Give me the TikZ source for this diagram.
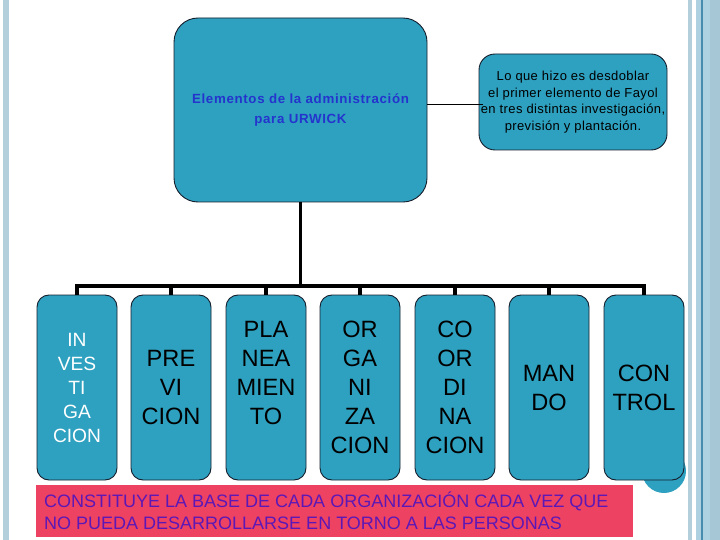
\documentclass[tikz,border=0pt]{standalone}
\usepackage{fontspec}
\setmainfont{Liberation Sans}
\definecolor{boxfill}{RGB}{46,161,192}
\definecolor{boxline}{RGB}{20,30,45}
\definecolor{titleblue}{RGB}{36,52,205}
\definecolor{notered}{RGB}{238,66,98}
\definecolor{notepurple}{RGB}{92,24,182}
\definecolor{stripA}{RGB}{180,207,220}
\definecolor{stripB}{RGB}{174,209,226}
\definecolor{stripC}{RGB}{166,200,214}
\definecolor{stripLine}{RGB}{70,140,175}
\tikzset{
  tealbox/.style={draw=boxline, line width=0.9pt, fill=boxfill, rounded corners=#1, inner sep=0pt, align=center},
  tealbox/.default=12pt,
  elembox/.style={tealbox=12pt, minimum width=80pt, minimum height=185pt,
     font=\fontsize{23.6}{29}\selectfont},
  conn/.style={draw=black, line width=3.2pt},
  thinconn/.style={draw=black, line width=1pt},
}
\begin{document}
\begin{tikzpicture}[x=1pt,y=-1pt]
\useasboundingbox (0,0) rectangle (720,540);
\fill[white] (0,0) rectangle (720,540);
% side decorations
\fill[stripA] (3,0) rectangle (9,540);
\fill[stripA] (688,0) rectangle (692,540);
\fill[stripB] (696,0) rectangle (720,540);
\fill[stripC] (710,0) rectangle (720,540);
\draw[stripLine, line width=1.2pt] (702,0) -- (702,540);

% main box
\node[tealbox=24pt, minimum width=253pt, minimum height=184pt,
      font=\fontsize{13.3}{20.7}\selectfont\bfseries\addfontfeature{LetterSpace=5},
      text=titleblue] (main) at (300.5,110)
  {Elementos de la administración\\para URWICK};

% side note box
\node[tealbox=16pt, minimum width=188pt, minimum height=96pt,
      font=\fontsize{13}{16.7}\selectfont\addfontfeature{LetterSpace=3}] (side) at (573,102)
  {Lo que hizo es desdoblar\\el primer elemento de Fayol\\en tres distintas investigación,\\previsión y plantación.};
\draw[thinconn] ([yshift=5pt]main.east) -- ([yshift=-3pt,xshift=4pt]side.west);

% shadow blob behind last box
\fill[boxfill] (664,471) circle (22);

% element boxes
\node[elembox, font=\fontsize{19.2}{24}\selectfont, text=white] (b1) at (77,387.5) {IN\\VES\\TI\\GA\\CION};
\node[elembox] (b2) at (171,387.5) {PRE\\VI\\CION};
\node[elembox] (b3) at (266,387.5) {PLA\\NEA\\MIEN\\TO\\\mbox{}};
\node[elembox] (b4) at (360,387.5) {OR\\GA\\NI\\ZA\\CION};
\node[elembox] (b5) at (455,387.5) {CO\\OR\\DI\\NA\\CION};
\node[elembox] (b6) at (549,387.5) {MAN\\DO};
\node[elembox] (b7) at (644,387.5) {CON\\TROL};

% tree connectors
\coordinate (bar) at (300.5,286);
\draw[conn] (main.south) -- (bar);
\draw[conn] (b1.north) |- (bar) -| (b7.north);
\foreach \b in {b2,b3,b4,b5,b6} {
  \draw[conn] (\b.north) -- (\b.north |- bar);
}

% bottom note
\fill[notered] (36,485) rectangle (633,537);
\node[anchor=west, align=left, inner sep=0pt, text=notepurple,
      font=\fontsize{18}{22}\selectfont] (note) at (44,511)
  {CONSTITUYE LA BASE DE CADA ORGANIZACIÓN CADA VEZ QUE\\NO PUEDA DESARROLLARSE EN TORNO A LAS PERSONAS};
\end{tikzpicture}
\end{document}
